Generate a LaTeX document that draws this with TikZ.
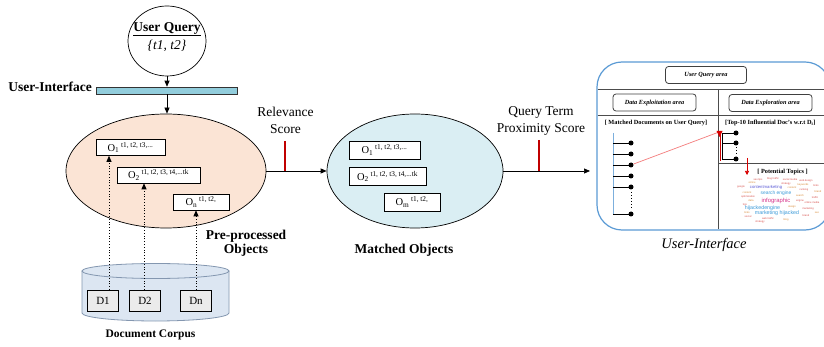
\documentclass[tikz,border=0pt]{standalone}
\usepackage{fontspec}
\setmainfont{Liberation Serif}
\newfontfamily\cloudfont{Liberation Sans}
\usetikzlibrary{shapes.geometric,arrows.meta,calc}

\definecolor{peach}{HTML}{FBE4D5}
\definecolor{paleblue}{HTML}{DAEEF3}
\definecolor{barblue}{HTML}{92CDDC}
\definecolor{corpusfill}{HTML}{DCE6F2}
\definecolor{corpusline}{HTML}{8497B0}
\definecolor{panelblue}{HTML}{5B9BD5}
\definecolor{tickred}{HTML}{C00000}
\definecolor{linkred}{HTML}{F47C7C}
\definecolor{cloudred}{HTML}{D9534F}
\definecolor{cloudorange}{HTML}{D98C3A}
\definecolor{cloudblue}{HTML}{3A9AD9}
\definecolor{cloudviolet}{HTML}{5B5BD6}
\definecolor{cloudpink}{HTML}{D6338A}

\tikzset{
  arr/.style={-{Triangle[length=6pt,width=5pt]}, line width=0.7pt},
  dotarr/.style={-{Triangle[length=6pt,width=5pt]}, line width=0.8pt, dotted},
  obox/.style={draw, fill=white, line width=0.6pt, inner sep=1pt, minimum height=16pt,
    font=\fontsize{10.5}{11}\selectfont},
  dbox/.style={draw, fill=black!8, line width=0.6pt, minimum width=31pt, minimum height=21pt,
    inner sep=0pt, font=\fontsize{11}{12}\selectfont},
  boldlabel/.style={font=\fontsize{13.5}{14}\selectfont\bfseries, align=center, inner sep=0pt},
  plainlabel/.style={font=\fontsize{13.5}{16.5}\selectfont, align=center, inner sep=0pt},
  tick/.style={draw=tickred, line width=1.2pt},
  areabox/.style={draw=black!75, rounded corners=3pt, line width=0.8pt, inner sep=0pt,
    minimum height=17pt, font=\fontsize{6.3}{7}\selectfont\bfseries\itshape},
  uitext/.style={font=\fontsize{6.3}{7}\selectfont\bfseries, inner sep=0pt},
  divider/.style={draw=black!70, line width=0.8pt},
  leafdot/.style={circle, fill=black, inner sep=0pt, minimum size=5pt},
  redarr/.style={draw=red!85!black, line width=0.6pt, -{Triangle[length=4pt,width=4pt]}},
  cw/.style={font=\cloudfont\fontsize{2.6}{3}\selectfont, inner sep=0pt},
  cbig/.style={inner sep=0pt},
}

\newcommand{\objlabel}[2]{O\textsubscript{#1}\,\textsuperscript{#2}}
\newcommand{\cloudsize}[1]{\cloudfont\fontsize{#1}{#1}\selectfont}

\begin{document}
\begin{tikzpicture}[x=1pt,y=-1pt]
\clip (0,0) rectangle (824,347);
\fill[white] (0,0) rectangle (824,347);

% ---------- query circle and interface bar ----------
\node[ellipse, draw, line width=0.7pt, minimum width=78pt, minimum height=70pt, inner sep=0pt] (uq) at (167,41) {};
\node[font=\fontsize{13.5}{14}\selectfont\bfseries, inner sep=0pt] (uqtitle) at (167,28) {User Query};
\draw[line width=0.6pt] ([yshift=-1.5pt]uqtitle.south west) -- ([yshift=-1.5pt]uqtitle.south east);
\node[font=\fontsize{13.5}{14}\selectfont\itshape, inner sep=0pt] (uqterms) at (167,45.5) {\{t1, t2\}};
\node[draw=black!80, fill=barblue, line width=0.6pt, minimum width=141pt, minimum height=7pt, inner sep=0pt] (bar) at (166.5,90.5) {};
\node[boldlabel, anchor=east] (uilabel) at (92,87) {User-Interface};
\draw[arr] (uq.south) -- (uq.south |- bar.north);

% ---------- pre-processed objects ----------
\node[ellipse, draw, line width=0.7pt, fill=peach, minimum width=200pt, minimum height=114pt, inner sep=0pt] (pre) at (166,171) {};
\draw[arr] (bar.south -| uq.south) -- (uq.south |- pre.north);
\node[obox, minimum width=69pt] (po1) at (130.5,147.5) {\objlabel{1}{t1, t2, t3,...}};
\node[obox, minimum width=83pt] (po2) at (158.5,175) {\objlabel{2}{t1, t2, t3, t4,...tk}};
\node[obox, minimum width=56pt] (pon) at (201,202) {\objlabel{n}{t1, t2,}};
\node[boldlabel] (prelabel) at (246,243.5) {Pre-processed\\Objects};

% ---------- document corpus ----------
\fill[corpusfill] (82,271) -- (82,313) arc[start angle=180, end angle=360, x radius=73.5pt, y radius=8pt]
  -- (229,271) -- cycle;
\draw[corpusline, line width=0.8pt] (82,271) -- (82,313) arc[start angle=180, end angle=360, x radius=73.5pt, y radius=8pt]
  -- (229,271);
\draw[corpusline, fill=corpusfill, line width=0.8pt] (155.5,271) ellipse[x radius=73.5pt, y radius=7.5pt];
\node[dbox] (d1) at (103,300.5) {D1};
\node[dbox] (d2) at (145,300.5) {D2};
\node[dbox] (dn) at (196,300.5) {Dn};
\node[font=\fontsize{11.5}{12}\selectfont\bfseries, inner sep=0pt] (corpus) at (150.5,335) {Document Corpus};

\draw[dotarr] ([xshift=6pt]d1.north) -- ([xshift=6pt]d1.north |- po1.south);
\draw[dotarr] ([xshift=-1pt]d2.north) -- ([xshift=-1pt]d2.north |- po2.south);
\draw[dotarr] (dn.north) -- (dn.north |- pon.south);

% ---------- matched objects ----------
\node[ellipse, draw, line width=0.7pt, fill=paleblue, minimum width=176pt, minimum height=114pt, inner sep=0pt] (mo) at (415,171) {};
\node[obox, minimum width=71pt, minimum height=18pt] (mo1) at (384.5,150) {\objlabel{1}{t1, t2, t3,...}};
\node[obox, minimum width=77pt, minimum height=18pt] (mo2) at (387.5,176.5) {\objlabel{2}{t1, t2, t3, t4,...tk}};
\node[obox, minimum width=56pt, minimum height=18pt] (mom) at (412,202) {\objlabel{m}{t1, t2,}};
\node[boldlabel] (molabel) at (404,250) {Matched Objects};

\draw[arr] (pre.east) -- (mo.west);
\draw[tick] (285,141) -- (285,171);
\node[plainlabel] (rel) at (285.5,120.5) {Relevance\\Score};

% ---------- user interface panel ----------
\draw[panelblue, line width=1.2pt, rounded corners=25pt] (597,62) rectangle (830,230);
\coordinate (panelin) at (597,171);
\draw[arr, shorten >=7pt] (mo.east) -- (panelin);
\draw[tick] (539,140) -- (539,171);
\node[plainlabel] (qtp) at (541,121) {Query Term\\Proximity Score};

\draw[divider] (597.6,89) -- (824,89);
\draw[divider] (597.6,115) -- (824,115);
\draw[divider] (718,89) -- (718,229.4);
\draw[divider] (718,163) -- (824,163);

\node[areabox, minimum width=81pt] (uqa) at (706,75) {User Query area};
\node[areabox, minimum width=83pt] (dxa) at (654.5,102.5) {Data Exploitation area};
\node[areabox, minimum width=83pt] (dra) at (770.5,103) {Data Exploration area};

\node[uitext] (mdl) at (656,123) {[ Matched Documents on User Query]};
\node[uitext, anchor=west] (tdl) at (725,123) {[Top-10 Influential Doc's w.r.t D\textsubscript{i}]};

% matched documents list
\draw[panelblue!80, line width=0.8pt] (613,133) -- (613,214);
\foreach \i/\y in {1/143,2/154,3/165,4/176,5/187,6/214}{
  \node[leafdot] (m\i) at (631,\y) {};
  \draw[line width=0.8pt] (613,\y) -- (m\i.center);
}
\draw[line width=1pt, dotted] (631,192) -- (631,209);

% influential documents list
\draw[line width=0.8pt] (722,133) -- (722,159);
\foreach \i/\y in {1/133,2/143,3/159}{
  \node[leafdot] (t\i) at (736,\y) {};
  \draw[line width=0.8pt] (722,\y) -- (t\i.center);
}
\draw[line width=1pt, dotted] (736,147) -- (736,155);

\coordinate (linkend) at (719,132);
\draw[linkred, line width=0.7pt] (m3) -- (linkend);
\draw[red!80!black, line width=0.9pt] (720.5,131) -- (720.5,161);
\fill[red!85!black] (716.5,131) -- (722.5,131) -- (719.5,137) -- cycle;

\coordinate (ptstart) at (747,158);
\coordinate (ptend) at (747,175);
\draw[redarr] (ptstart) -- (ptend);
\node[uitext] (ptl) at (782.5,172) {[ Potential Topics ]};

% topic cloud
\node[cbig, text=cloudviolet, font=\cloudsize{4.2}] at (766,187) {contentmarketing};
\node[cbig, text=cloudblue, font=\cloudsize{4.9}] at (776,193.5) {search engine};
\node[cbig, text=cloudpink, font=\cloudsize{5.9}] at (776,201) {infographic};
\node[cbig, text=cloudblue, font=\cloudsize{5.3}] at (762.5,208) {hijackedengine};
\node[cbig, text=cloudblue, font=\cloudsize{5.3}] at (777,213.5) {marketing hijacked};
\foreach \x/\y/\w/\c in {
  758/180/seo tips/cloudred, 773/179/blog traffic/cloudred, 790/180/social media/cloudred,
  806/181/web design/cloudred, 752/183/online/cloudorange, 786/184/strategy/cloudred,
  803/185/keywords/cloudorange, 816/186/links/cloudred, 741/187/google/cloudred,
  747/193/content/cloudorange, 804/190/ranking/cloudred, 818/192/brand/cloudorange,
  748/197/optimization/cloudred, 800/196/search/cloudorange, 815/198/traffic/cloudred,
  751/201/data/cloudorange, 800/201/engine/cloudred, 812/203/online media/cloudred,
  792/207/design/cloudorange, 745/205/tips/cloudred, 808/209/marketing/cloudred,
  747/213/links/cloudorange, 748/217/social/cloudred, 768/219/web traffic/cloudred,
  786/220/blog/cloudorange, 806/216/brand/cloudred, 817/213/seo/cloudorange,
  792/188/content/cloudorange, 760/222/strategy/cloudred}{
  \node[cw, text=\c] at (\x,\y) {\w};
}

\node[font=\fontsize{14.5}{16}\selectfont\itshape, inner sep=0pt] (uilabel2) at (704,245) {User-Interface};
\end{tikzpicture}
\end{document}
